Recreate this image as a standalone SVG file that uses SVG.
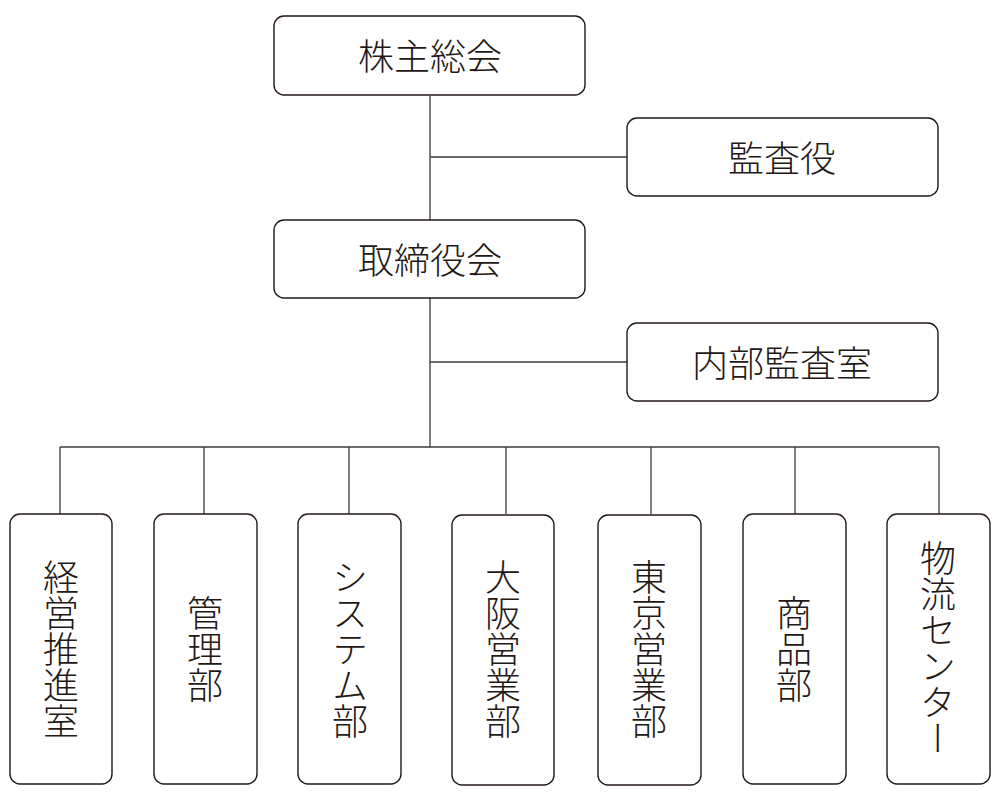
<svg xmlns="http://www.w3.org/2000/svg" width="1000" height="800" viewBox="0 0 1000 800">
<style>
.box{fill:#fff;stroke:#231815;stroke-width:1.4}
.ln{stroke:#3e3a39;stroke-width:1.3;fill:none}
.t{font-family:"Noto Sans CJK JP","Noto Sans CJK SC",sans-serif;font-size:36px;font-weight:300;fill:#231815;text-anchor:middle;dominant-baseline:central}
.v{writing-mode:vertical-rl;text-orientation:mixed}
</style>
<rect width="1000" height="800" fill="#fff"/>
<g id="connectors">
<path class="ln" d="M430 96V447M430 157H627M430 362H627M60 447H939"/>
<path class="ln" d="M60 447V514M204 447V514M349 447V514M506 447V514M651 447V514M795 447V514M939 447V514"/>
</g>
<g id="n1"><rect class="box" x="274" y="16" width="311" height="79" rx="10"/><text class="t" x="430" y="54">株主総会</text></g>
<g id="n2"><rect class="box" x="627" y="118" width="311" height="78" rx="10"/><text class="t" x="782" y="156">監査役</text></g>
<g id="n3"><rect class="box" x="274" y="220" width="311" height="78" rx="10"/><text class="t" x="430" y="258">取締役会</text></g>
<g id="n4"><rect class="box" x="627" y="323" width="311" height="78" rx="10"/><text class="t" x="782" y="361">内部監査室</text></g>
<g id="b1"><rect class="box" x="10" y="514" width="102" height="270" rx="10"/><text class="t v" x="61" y="649">経営推進室</text></g>
<g id="b2"><rect class="box" x="154" y="514" width="103" height="270" rx="10"/><text class="t v" x="205" y="649">管理部</text></g>
<g id="b3"><rect class="box" x="298" y="514" width="103" height="270" rx="10"/><text class="t v" x="350" y="649">システム部</text></g>
<g id="b4"><rect class="box" x="452" y="515" width="102" height="270" rx="10"/><text class="t v" x="503" y="649">大阪営業部</text></g>
<g id="b5"><rect class="box" x="598" y="515" width="103" height="270" rx="10"/><text class="t v" x="649" y="649">東京営業部</text></g>
<g id="b6"><rect class="box" x="743" y="514" width="103" height="270" rx="10"/><text class="t v" x="794" y="649">商品部</text></g>
<g id="b7"><rect class="box" x="887" y="514" width="103" height="270" rx="10"/><text class="t v" x="938" y="648">物流センター</text></g>
</svg>
